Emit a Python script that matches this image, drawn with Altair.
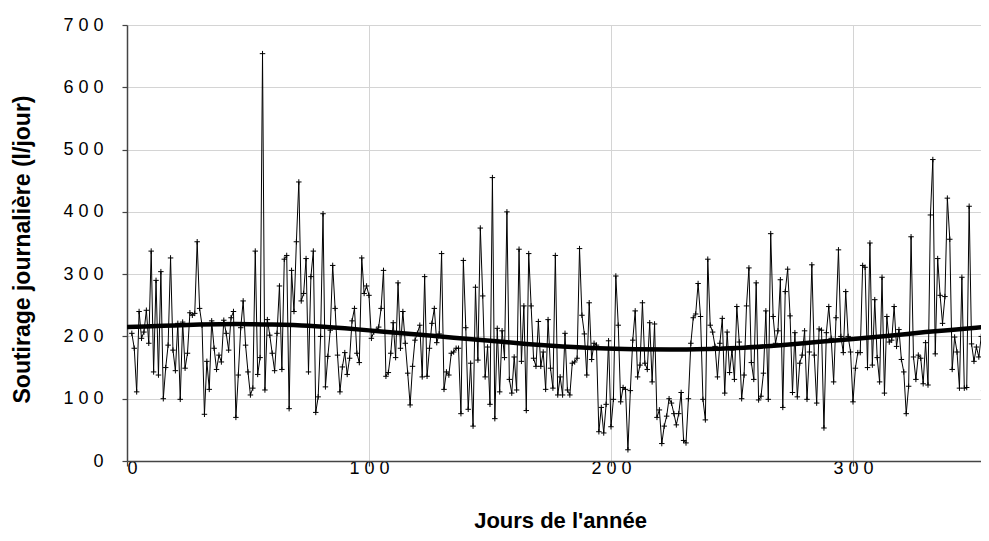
import altair as alt
import pandas as pd

# Daily values, in consecutive runs of days
seg_start = [2, 31, 62, 93, 123, 155, 187, 219, 250, 281, 314, 346]
seg_vals = [
    [205, 181, 111, 240, 197, 207, 242, 189, 337, 143, 290, 138, 304, 100, 150, 186, 326, 178, 145, 221,
     99, 223, 149, 173, 238, 234, 237, 352, 245],
    [218, 75, 160, 115, 225, 181, 147, 170, 159, 226, 205, 178, 230, 240, 70, 138, 214, 257, 186, 143,
     106, 117, 337, 139, 166, 654, 114, 227, 202, 173, 145],
    [205, 281, 147, 324, 330, 84, 306, 240, 352, 448, 257, 269, 325, 143, 296, 337, 78, 103, 200, 397,
     119, 168, 210, 314, 245, 170, 111, 151, 174, 139, 165],
    [225, 245, 173, 158, 326, 269, 281, 266, 197, 207, 210, 215, 245, 306, 136, 142, 173, 222, 166, 286,
     181, 240, 189, 141, 90, 152, 194, 205, 218, 135],
    [296, 136, 181, 221, 245, 190, 204, 333, 115, 143, 138, 173, 175, 181, 181, 76, 322, 214, 83, 157,
     56, 279, 162, 374, 265, 135, 183, 91, 455, 68, 213, 111],
    [209, 166, 400, 131, 109, 167, 114, 340, 160, 249, 81, 333, 249, 165, 152, 224, 152, 175, 115, 227,
     149, 117, 330, 106, 135, 106, 205, 114, 106, 157, 159, 165],
    [341, 234, 204, 138, 254, 163, 189, 186, 47, 86, 45, 91, 193, 55, 99, 297, 218, 95, 118, 115,
     18, 113, 194, 241, 135, 154, 254, 157, 147, 222, 127, 220],
    [70, 82, 28, 56, 72, 100, 93, 76, 58, 76, 110, 33, 29, 100, 189, 230, 236, 285, 232, 99,
     66, 324, 218, 207, 184, 135, 189, 229, 109, 207, 142],
    [178, 131, 248, 191, 100, 138, 249, 310, 158, 131, 286, 98, 104, 141, 241, 99, 365, 232, 189, 209,
     291, 86, 272, 308, 233, 110, 206, 103, 157, 170, 209],
    [99, 175, 315, 170, 93, 212, 210, 53, 206, 248, 197, 127, 230, 339, 200, 174, 272, 200, 175, 95,
     149, 174, 174, 314, 311, 150, 350, 154, 259, 166, 127, 295, 109],
    [232, 191, 194, 248, 184, 211, 163, 143, 76, 120, 360, 167, 131, 170, 165, 124, 190, 122, 395, 484,
     172, 325, 266, 221, 264, 422, 356, 147, 199, 175, 117, 295],
    [117, 118, 409, 188, 160, 183, 167, 200, 113, 149, 152, 158],
]

# Smooth trend, read at knots
trend_days = [0, 15, 30, 45, 60, 75, 90, 105, 120, 135, 150, 165, 180, 195, 210, 225, 240, 255, 270,
              285, 300, 315, 330, 345, 357]
trend_vals = [215, 217, 219, 220, 219, 217, 213, 208, 203, 198, 193, 188, 184, 181, 179.5, 179, 180, 182,
              186, 191, 196, 201, 207, 212, 216]

x_ticks = [0, 100, 200, 300]
y_ticks = [0, 100, 200, 300, 400, 500, 600, 700]

days, vals = [], []
for s, vs in zip(seg_start, seg_vals):
    for i, v in enumerate(vs):
        days.append(s + i)
        vals.append(v)
df = pd.DataFrame({"d": days, "v": vals})
tf = pd.DataFrame({"d": trend_days, "v": trend_vals})

FONT = "Liberation Sans"
spaced = "join(split(datum.label, ''), ' ')"

xenc = alt.X("d:Q", scale=alt.Scale(domain=[0, 352.9], nice=False, zero=False),
             axis=alt.Axis(values=x_ticks, title="Jours de l'année", labelExpr=spaced,
                           titleX=433, titleY=66, titleBaseline="alphabetic", titleAlign="center",
                           titleFontSize=22,
                           labelBaseline="middle", labelPadding=2, tickSize=5))
yenc = alt.Y("v:Q", scale=alt.Scale(domain=[0, 700], nice=False),
             axis=alt.Axis(values=y_ticks, title="Soutirage journalière (l/jour)", labelExpr=spaced,
                           titleX=-105, titleY=224, titleAngle=-90, titleBaseline="middle",
                           titleAlign="center", titleFontSize=23, labelPadding=19, tickSize=5))

line = alt.Chart(df).mark_line(color="black", strokeWidth=1, clip=True).encode(x=xenc, y=yenc)
pts = alt.Chart(df).mark_point(shape="M-1,0L1,0M0,-1L0,1", size=30, filled=False, stroke="black",
                               strokeWidth=1, opacity=1, clip=True).encode(x="d:Q", y="v:Q")
trend = alt.Chart(tf).mark_line(color="black", strokeWidth=4.5, interpolate="monotone",
                                clip=True).encode(x="d:Q", y="v:Q")

chart = (line + pts + trend).properties(
    width=854, height=436,
    autosize=alt.AutoSizeParams(type="none"),
    padding={"left": 119, "top": 17, "right": 0, "bottom": 70},
    background="white",
).configure_view(stroke=None).configure_axis(
    grid=True, gridColor="#d4d4d4", gridWidth=1,
    domainColor="#444444", domainWidth=1.5, tickColor="#444444", tickWidth=1.2,
    labelFont=FONT, labelFontSize=18, labelColor="black",
    titleFont=FONT, titleFontWeight="bold", titleColor="black",
)

chart.save("out.html", embed_options={"renderer": "svg", "actions": False})
